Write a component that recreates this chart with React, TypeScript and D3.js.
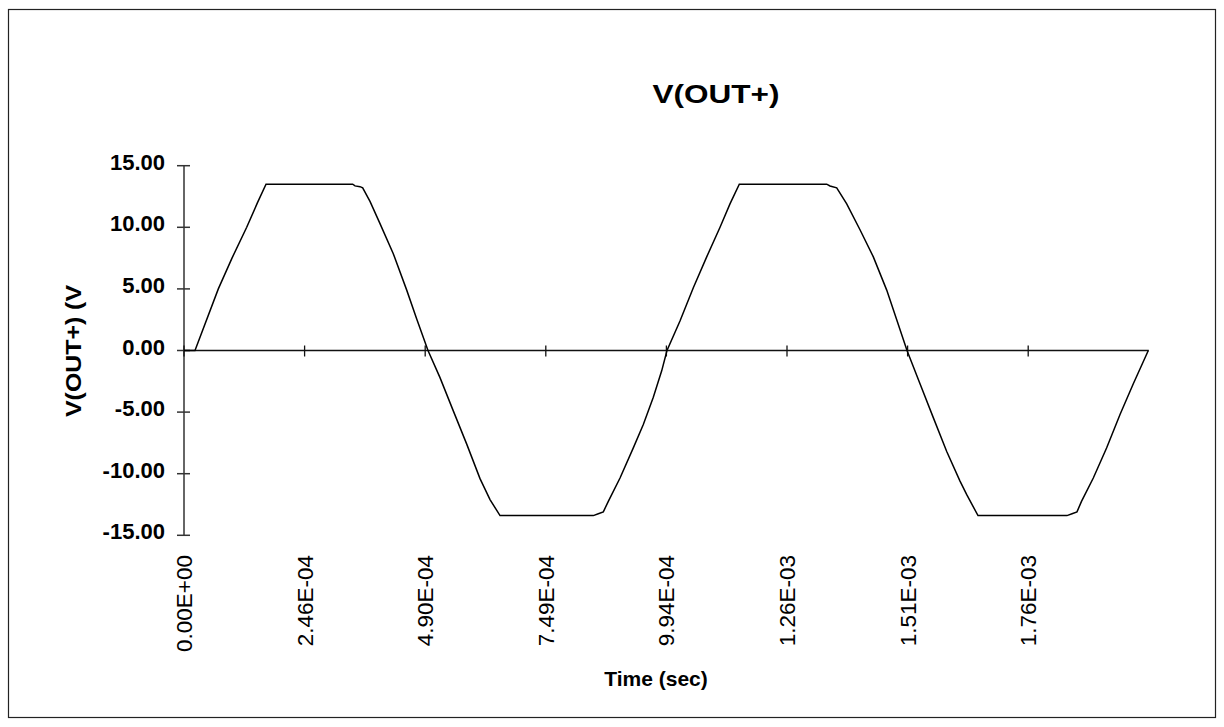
import React from 'react';
import * as d3 from 'd3';

// time in microseconds
const timeUs = [
  0, 22.4, 70.0, 97.9, 127.9, 149.9, 167.3, 344.1, 348.8, 359.0, 364.5, 379.4,
  399.8, 426.9, 454.3, 474.7, 497.7, 522.2, 549.3, 576.7, 603.8, 624.2, 644.6,
  834.9, 845.1, 855.3, 865.5, 889.4, 916.5, 936.9, 957.3, 974.4, 985.2, 1011.7,
  1038.9, 1066.2, 1093.4, 1113.7, 1132.7, 1311.0, 1317.7, 1331.4, 1351.8,
  1378.9, 1406.1, 1433.4, 1453.8, 1474.8, 1501.3, 1528.4, 1555.8, 1582.9,
  1596.6, 1619.6, 1801.1, 1811.4, 1821.5, 1830.7, 1854.8, 1882.1, 1909.3,
  1936.4, 1967.0,
];

// V(OUT+) in volts
const voltage = [
  0, 0, 5.0, 7.5, 10.0, 12.0, 13.5, 13.5, 13.36, 13.3, 13.2, 12.1,
  10.3, 7.86, 4.9, 2.55, 0, -2.2, -4.9, -7.6, -10.4, -12.1, -13.4,
  -13.4, -13.25, -13.1, -12.25, -10.35, -7.9, -6.0, -3.8, -1.65, 0, 2.4,
  5.1, 7.6, 10.0, 11.9, 13.5, 13.5, 13.35, 13.2, 11.9,
  9.8, 7.6, 4.9, 2.5, 0, -2.7, -5.45, -8.2, -10.6,
  -11.7, -13.4, -13.4, -13.25, -13.1, -12.25, -10.35, -7.9, -5.2,
  -2.7, 0,
];

const yTicks = [-15, -10, -5, 0, 5, 10, 15];
const xTickLabels = ['0.00E+00', '2.46E-04', '4.90E-04', '7.49E-04', '9.94E-04', '1.26E-03', '1.51E-03', '1.76E-03'];
const X_TICK_STEP = 246; // us between category labels
const X_END = 1968;

const W = 1224;
const H = 727;

export default function App() {
  const x = d3.scaleLinear().domain([0, X_END]).range([184, 1148.8]);
  const y = d3.scaleLinear().domain([-15, 15]).range([535.3, 165.7]);

  const pts = timeUs.map((t, i) => [t, voltage[i]] as [number, number]);
  const line = d3.line<[number, number]>()
    .x(d => x(d[0]))
    .y(d => y(d[1]));

  const y0 = y(0);
  const font = 'Liberation Sans, Arial, sans-serif';

  return (
    <svg width={W} height={H} style={{ position: 'absolute', left: 0, top: 0, background: '#fff' }}
      xmlns="http://www.w3.org/2000/svg" fontFamily={font}>
      <rect x={8.5} y={9.5} width={1207} height={708} fill="none" stroke="#222" strokeWidth={1.2} />

      <text x={716} y={103} textAnchor="middle" fontWeight="bold" fontSize={26} textLength={127}
        lengthAdjust="spacingAndGlyphs">V(OUT+)</text>

      {/* y axis */}
      <line x1={x(0)} x2={x(0)} y1={y(15)} y2={y(-15)} stroke="#333" strokeWidth={1.5} />
      {yTicks.map(v => (
        <g key={`yt-${v}`}>
          <line x1={177} x2={190} y1={y(v)} y2={y(v)} stroke="#333" strokeWidth={1.5} />
          <text x={165} y={y(v) + 4} textAnchor="end" fontSize={22} fontWeight="bold">{v.toFixed(2)}</text>
        </g>
      ))}
      <text transform={`translate(81,351) rotate(-90)`} textAnchor="middle" fontWeight="bold" fontSize={22}
        textLength={132} lengthAdjust="spacingAndGlyphs">V(OUT+) (V</text>

      {/* zero line acts as the x axis */}
      <line x1={x(0)} x2={x(X_END)} y1={y0} y2={y0} stroke="#111" strokeWidth={1.5} />
      {xTickLabels.map((lab, i) => {
        const px = x(i * X_TICK_STEP);
        return (
          <g key={`xt-${i}`}>
            <line x1={px} x2={px} y1={y0 - 5} y2={y0 + 6} stroke="#111" strokeWidth={1.3} />
            <text transform={`translate(${px + 8},555) rotate(-90)`} textAnchor="end" fontSize={22.5}>{lab}</text>
          </g>
        );
      })}
      <text x={656} y={686} textAnchor="middle" fontWeight="bold" fontSize={21}>Time (sec)</text>

      <path d={line(pts) || ''} fill="none" stroke="#000" strokeWidth={1.5} />
    </svg>
  );
}
